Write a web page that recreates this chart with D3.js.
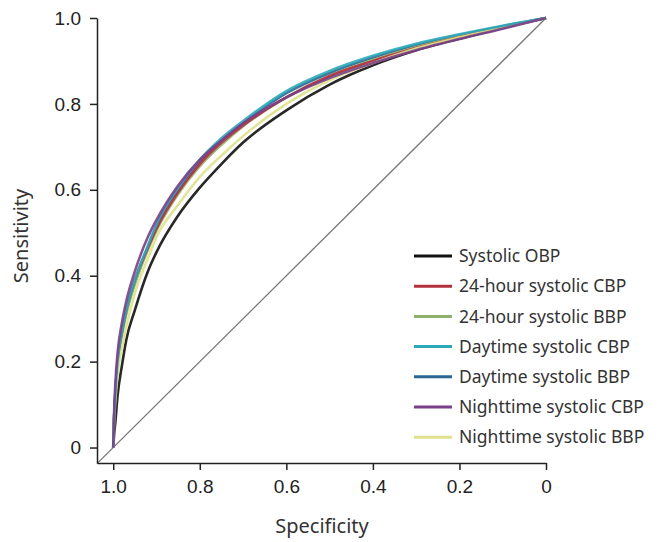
<!DOCTYPE html>
<html>
<head>
  <meta charset="utf-8">
  <script src="https://d3js.org/d3.v7.min.js"></script>
  <style>
    body { margin: 0; background: #fff; }
    .tick text { font-family: "Liberation Sans", Arial, sans-serif; font-size: 19px; fill: #222; }
    .axis path, .axis line { stroke: #222; stroke-width: 1.5; }
    .title { font-family: "Noto Sans", sans-serif; font-size: 20px; fill: #333; }
    .legend text { font-family: "Noto Sans", sans-serif; font-size: 17.5px; fill: #333; }
  </style>
</head>
<body>
<svg width="665" height="542"></svg>
<script>
  // specificity grid shared by all curves
  var spec = [1, 0.998, 0.995, 0.99, 0.98, 0.97, 0.95, 0.92, 0.9, 0.85, 0.8, 0.75, 0.7, 0.6, 0.5, 0.4, 0.3, 0.2, 0.1, 0];

  var obp      = [0, 0.03, 0.06, 0.12, 0.19, 0.25, 0.32, 0.41, 0.455, 0.54, 0.605, 0.66, 0.71, 0.785, 0.845, 0.89, 0.925, 0.952, 0.977, 1];
  var cbp24    = [0, 0.07, 0.13, 0.20, 0.27, 0.32, 0.39, 0.465, 0.51, 0.595, 0.66, 0.71, 0.75, 0.815, 0.865, 0.90, 0.93, 0.956, 0.979, 1];
  var bbp24    = [0, 0.065, 0.12, 0.19, 0.26, 0.31, 0.38, 0.46, 0.505, 0.59, 0.655, 0.705, 0.748, 0.815, 0.865, 0.902, 0.932, 0.957, 0.979, 1];
  var cbpDay   = [0, 0.07, 0.13, 0.20, 0.27, 0.32, 0.39, 0.47, 0.52, 0.605, 0.67, 0.72, 0.76, 0.83, 0.877, 0.912, 0.94, 0.962, 0.982, 1];
  var bbpDay   = [0, 0.07, 0.125, 0.195, 0.265, 0.315, 0.385, 0.465, 0.515, 0.60, 0.665, 0.715, 0.755, 0.825, 0.872, 0.908, 0.937, 0.96, 0.981, 1];
  var cbpNight = [0, 0.08, 0.15, 0.22, 0.29, 0.34, 0.41, 0.49, 0.53, 0.61, 0.67, 0.715, 0.755, 0.815, 0.86, 0.895, 0.925, 0.951, 0.975, 1];
  var bbpNight = [0, 0.06, 0.11, 0.17, 0.23, 0.28, 0.36, 0.44, 0.49, 0.565, 0.63, 0.68, 0.725, 0.80, 0.855, 0.895, 0.929, 0.955, 0.978, 1];

  var names  = ["Systolic OBP", "24-hour systolic CBP", "24-hour systolic BBP", "Daytime systolic CBP",
                "Daytime systolic BBP", "Nighttime systolic CBP", "Nighttime systolic BBP"];
  var colors = ["#111111", "#b3313c", "#8fb06c", "#2ba8b9", "#2b6791", "#7a3f88", "#dfe28c"];
  var values = [obp, cbp24, bbp24, cbpDay, bbpDay, cbpNight, bbpNight];
  var drawOrder = [4, 2, 1, 0, 6, 3, 5];

  var xTicks = [1.0, 0.8, 0.6, 0.4, 0.2, 0];
  var yTicks = [0, 0.2, 0.4, 0.6, 0.8, 1.0];

  var svg = d3.select("svg");
  var x = d3.scaleLinear().domain([1.0375, 0]).range([97, 546]);
  var y = d3.scaleLinear().domain([-0.036, 1]).range([463, 18]);

  var fmt = function(d) { return d === 0 ? "0" : d3.format(".1f")(d); };

  // reference diagonal
  svg.append("path")
    .datum([[1.0375, -0.0375], [0, 1]])
    .attr("d", d3.line().x(function(d) { return x(d[0]); }).y(function(d) { return y(d[1]); }))
    .attr("stroke", "#777").attr("stroke-width", 1.3).attr("fill", "none");

  var line = d3.line()
    .x(function(d) { return x(d[0]); })
    .y(function(d) { return y(d[1]); })
    .curve(d3.curveMonotoneX);

  drawOrder.forEach(function(i) {
    svg.append("path")
      .datum(spec.map(function(s, k) { return [s, values[i][k]]; }))
      .attr("d", line)
      .attr("fill", "none")
      .attr("stroke", colors[i])
      .attr("stroke-width", 2.6)
      .attr("stroke-opacity", 0.9);
  });

  svg.append("g").attr("class", "axis")
    .attr("transform", "translate(0,463)")
    .call(d3.axisBottom(x).tickValues(xTicks).tickFormat(fmt).tickSize(7).tickSizeOuter(0).tickPadding(10));

  svg.append("g").attr("class", "axis")
    .attr("transform", "translate(97,0)")
    .call(d3.axisLeft(y).tickValues(yTicks).tickFormat(fmt).tickSize(7).tickSizeOuter(0).tickPadding(9));

  svg.append("text").attr("class", "title")
    .attr("x", 322).attr("y", 533).attr("text-anchor", "middle").text("Specificity");
  svg.append("text").attr("class", "title")
    .attr("transform", "translate(28,236) rotate(-90)").attr("text-anchor", "middle").text("Sensitivity");

  var legend = svg.append("g").attr("class", "legend");
  names.forEach(function(n, i) {
    var ly = 256 + i * 30.2;
    legend.append("line").attr("x1", 414).attr("x2", 452).attr("y1", ly).attr("y2", ly)
      .attr("stroke", colors[i]).attr("stroke-width", 3);
    legend.append("text").attr("x", 459).attr("y", ly).attr("dy", "0.35em").text(n);
  });
</script>
</body>
</html>
